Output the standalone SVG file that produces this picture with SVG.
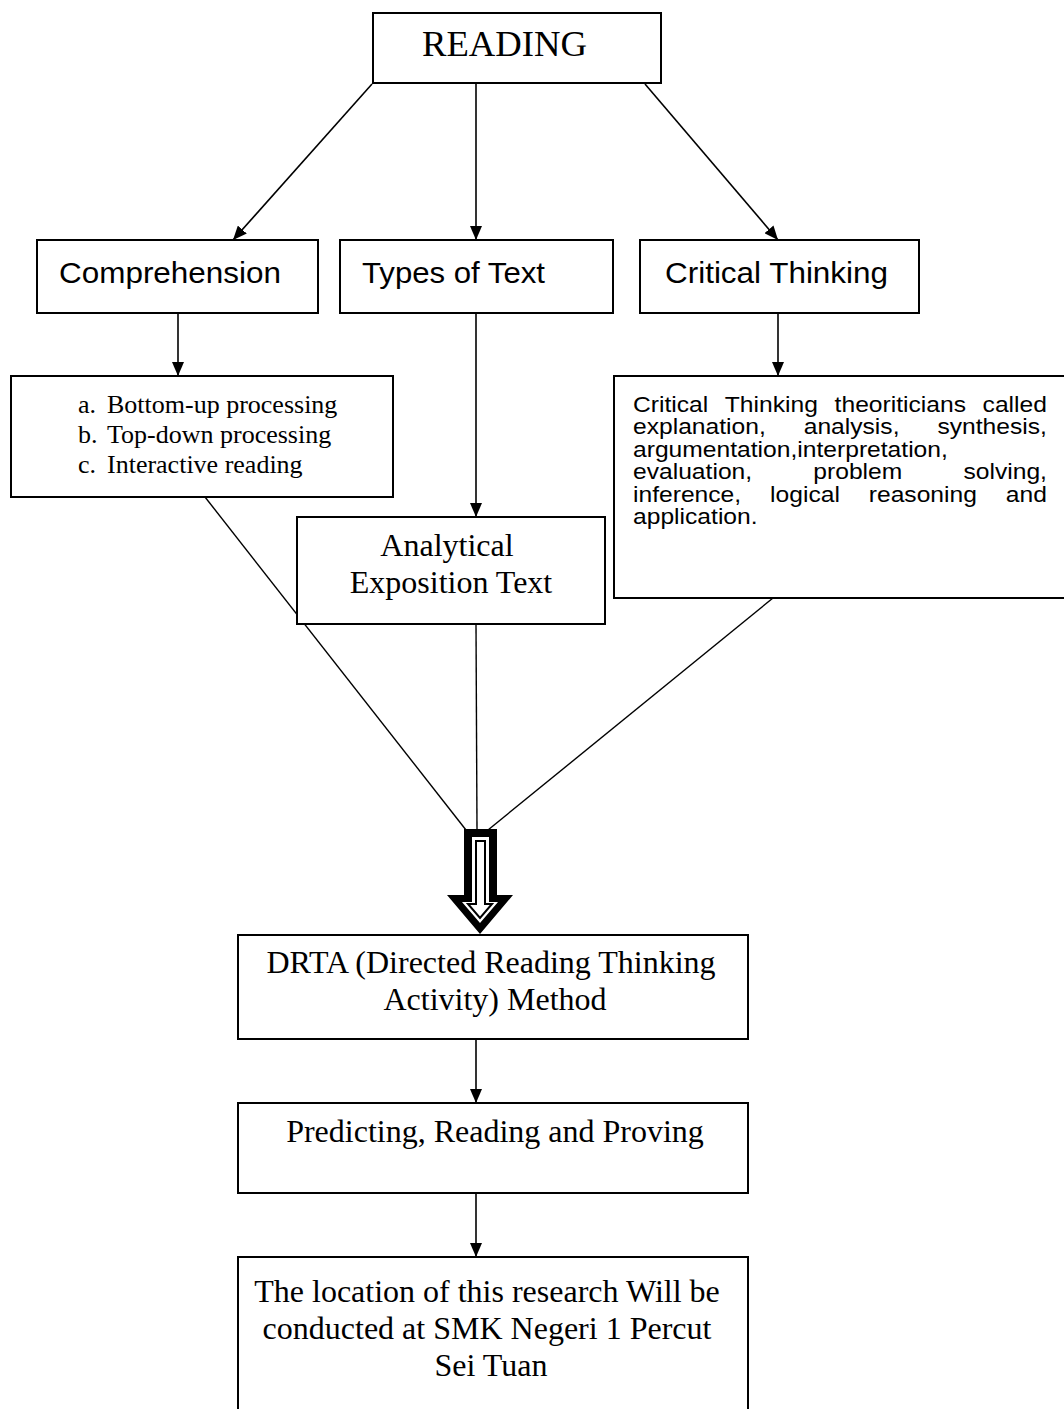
<svg xmlns="http://www.w3.org/2000/svg" width="1064" height="1409" viewBox="0 0 1064 1409">
<defs>
<style>
.box{fill:#fff;stroke:#000;stroke-width:2}
.serif{font-family:"Liberation Serif","Times New Roman",serif;fill:#000}
.sans{font-family:"Liberation Sans",Arial,sans-serif;fill:#000}
.ln{stroke:#000;stroke-width:1.6;fill:none}
.thin{stroke:#000;stroke-width:1.4;fill:none}
</style>
<marker id="ah" viewBox="0 0 14 12" refX="14" refY="6" markerWidth="14" markerHeight="12" markerUnits="userSpaceOnUse" orient="auto">
<path d="M0,0 L14,6 L0,12 Z" fill="#000"/>
</marker>
</defs>
<rect width="1064" height="1409" fill="#fff"/>

<g id="connectors">
<line class="ln" x1="372" y1="84" x2="233" y2="240" marker-end="url(#ah)"/>
<line class="ln" x1="476" y1="84" x2="476" y2="240" marker-end="url(#ah)"/>
<line class="ln" x1="645" y1="84" x2="778" y2="240" marker-end="url(#ah)"/>
<line class="ln" x1="178" y1="313" x2="178" y2="376" marker-end="url(#ah)"/>
<line class="ln" x1="476" y1="313" x2="476" y2="517" marker-end="url(#ah)"/>
<line class="ln" x1="778" y1="313" x2="778" y2="376" marker-end="url(#ah)"/>
<line class="thin" x1="205" y1="497" x2="466" y2="830"/>
<line class="thin" x1="476" y1="624" x2="477" y2="830"/>
<line class="thin" x1="773" y1="598" x2="488" y2="830"/>
<g id="hollow-arrow">
<path d="M464,829 H497 V895 H513 L480,934 L447,895 H464 Z" fill="#000"/>
<path d="M472,837 H489 V902 H498 L480,923 L462,902 H472 Z" fill="#fff"/>
<path d="M476,841 H485 V904 H492 L480,918 L468,904 H476 Z" fill="#fff" stroke="#000" stroke-width="2"/>
</g>
<line class="ln" x1="476" y1="1039" x2="476" y2="1103" marker-end="url(#ah)"/>
<line class="ln" x1="476" y1="1193" x2="476" y2="1257" marker-end="url(#ah)"/>
</g>

<g id="reading">
<rect class="box" x="373" y="13" width="288" height="70"/>
<text class="serif" x="422" y="56" font-size="36" textLength="165" lengthAdjust="spacingAndGlyphs">READING</text>
</g>

<g id="comprehension">
<rect class="box" x="37" y="240" width="281" height="73"/>
<text class="sans" x="59" y="283" font-size="30" textLength="222" lengthAdjust="spacingAndGlyphs">Comprehension</text>
</g>

<g id="types-of-text">
<rect class="box" x="340" y="240" width="273" height="73"/>
<text class="sans" x="362" y="283" font-size="30" textLength="183" lengthAdjust="spacingAndGlyphs">Types of Text</text>
</g>

<g id="critical-thinking">
<rect class="box" x="640" y="240" width="279" height="73"/>
<text class="sans" x="665" y="283" font-size="30" textLength="223" lengthAdjust="spacingAndGlyphs">Critical Thinking</text>
</g>

<g id="processing-list">
<rect class="box" x="11" y="376" width="382" height="121"/>
<text class="serif" font-size="26">
<tspan x="78" y="413">a.</tspan><tspan x="107" y="413">Bottom-up processing</tspan>
<tspan x="78" y="443">b.</tspan><tspan x="107" y="443">Top-down processing</tspan>
<tspan x="78" y="473">c.</tspan><tspan x="107" y="473">Interactive reading</tspan>
</text>
</g>

<g id="analytical-exposition">
<rect class="box" x="297" y="517" width="308" height="107"/>
<text class="serif" font-size="32" text-anchor="middle">
<tspan x="451" y="556">Analytical</tspan>
<tspan x="451" y="593">Exposition Text</tspan>
</text>
</g>

<g id="critical-thinking-detail">
<rect class="box" x="614" y="376" width="452" height="222"/>
<g class="sans" font-size="22" transform="translate(633,0) scale(1.12,1)">
<text x="0" y="412">Critical</text>
<text x="82" y="412">Thinking</text>
<text x="180" y="412">theoriticians</text>
<text x="369.6" y="412" text-anchor="end">called</text>
<text x="0" y="434.5">explanation,</text>
<text x="152.4" y="434.5">analysis,</text>
<text x="369.6" y="434.5" text-anchor="end">synthesis,</text>
<text x="0" y="457">argumentation,interpretation,</text>
<text x="0" y="479.5">evaluation,</text>
<text x="161" y="479.5">problem</text>
<text x="369.6" y="479.5" text-anchor="end">solving,</text>
<text x="0" y="502">inference,</text>
<text x="122.4" y="502">logical</text>
<text x="210.5" y="502">reasoning</text>
<text x="369.6" y="502" text-anchor="end">and</text>
<text x="0" y="524.5">application.</text>
</g>
</g>

<g id="drta">
<rect class="box" x="238" y="935" width="510" height="104"/>
<text class="serif" font-size="32" text-anchor="middle">
<tspan x="495" y="973">DRTA (Directed Reading Thinking</tspan>
<tspan x="495" y="1010">Activity) Method</tspan>
</text>
</g>

<g id="predicting">
<rect class="box" x="238" y="1103" width="510" height="90"/>
<text class="serif" x="495" y="1142" font-size="32" text-anchor="middle">Predicting, Reading and Proving</text>
</g>

<g id="location">
<path class="box" d="M238,1412 V1257 H748 V1412"/>
<text class="serif" font-size="32" text-anchor="middle">
<tspan x="491" y="1302">The location of this research Will be</tspan>
<tspan x="491" y="1339">conducted at SMK Negeri 1 Percut</tspan>
<tspan x="491" y="1376">Sei Tuan</tspan>
</text>
</g>
</svg>
